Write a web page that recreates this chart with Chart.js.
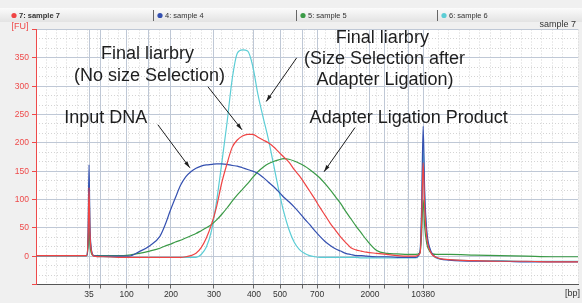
<!DOCTYPE html>
<html>
<head>
<meta charset="utf-8">
<script src="https://cdn.jsdelivr.net/npm/chart.js@4"></script>
<style>
  html, body { margin: 0; padding: 0; background: #f0f0f0; }
</style>
</head>
<body>
<canvas id="electro" width="582" height="303"></canvas>
<script>
// migration time in seconds, shared by all four traces
const migrationTime = [20, 24, 28, 29.8, 30.1, 30.27, 30.45, 30.7, 31.2, 33, 36, 38, 40, 42, 44,
  45, 46, 47, 48, 49, 50, 51, 52, 53, 54, 55, 56, 57, 58, 59, 60, 61, 62, 63, 64,
  65, 66, 67, 68, 69, 70, 71, 72, 73, 74, 75, 76, 77, 78, 79, 80, 81, 82, 83, 84,
  86, 88, 90, 92, 93.5, 94.4, 94.7, 95.0, 95.3, 95.7, 96.3, 97.5, 100, 105, 110, 115, 120, 125];

// fluorescence [FU]
const sample7 = [1, 1, 1, 1, 36, 121, 42, 11, 0, -1, -2, -2, -2, -2, -2,
  -2, -2, -2, -2, -1, 1, 5, 15, 32, 56, 88, 130, 163, 192, 205, 212, 215, 215, 210, 205,
  200, 193, 184, 175, 166, 153, 142, 129, 115, 101, 86, 72, 58, 46, 34, 24, 15, 11, 9, 7,
  5, 3, 1, 0, 0, 5, 58, 165, 85, 33, 10, -2, -6, -8, -9, -9, -10, -10];
const sample4 = [1, 1, 1, 1, 45, 161, 55, 14, 1, 0, 0, 0, 8, 18, 35,
  55, 80, 103, 125, 140, 149, 155, 159, 161, 162, 163, 163, 162, 160, 159, 156, 153, 150, 146, 139,
  131, 123, 114, 104, 96, 87, 77, 66, 56, 45, 35, 26, 19, 13, 9, 5, 3, 1, 1, 0,
  -1, -1, -2, -2, -2, 8, 85, 229, 115, 45, 14, -2, -7, -9, -9, -10, -10, -10];
const sample5 = [1, 1, 1, 1, 17, 56, 20, 6, 1, 1, 1, 2, 5, 9, 14,
  18, 21, 25, 28, 32, 36, 40, 45, 50, 56, 64, 74, 85, 97, 108, 118, 128, 139, 149, 157,
  163, 167, 170, 172, 171, 168, 164, 159, 153, 146, 138, 128, 117, 105, 93, 79, 66, 53, 41, 29,
  10, 5, 4, 3, 3, 6, 38, 100, 52, 22, 8, 3, 3, 2, 1, 0, -1, -1];
const sample6 = [1, 1, 1, 1, 38, 130, 45, 12, 0, -1, -2, -2, -2, -2, -2,
  -2, -2, -2, -2, -2, -2, -2, 3, 16, 45, 98, 165, 235, 312, 358, 364, 362, 335, 285, 245,
  207, 163, 118, 78, 47, 25, 12, 5, 1, -1, -2, -2, -2, -2, -2, -2, -2, -2, -3, -3,
  -3, -3, -3, -3, -3, 8, 70, 194, 100, 40, 12, -3, -6, -8, -8, -9, -9, -9];

// ladder peaks: size [bp] and their migration time
const ladderBp = [35, 50, 100, 150, 200, 300, 400, 500, 600, 700, 1000, 2000, 3000, 7000, 10380];
const ladderTime = [30.27, 32.4, 37.57, 41.89, 46.15, 54.48, 62.23, 67.27, 71.72, 74.44, 78.7, 84.7, 87.61, 92.26, 95.0];
const labelledBp = [35, 100, 200, 300, 400, 500, 700, 2000, 10380];
const fuLabels = [0, 50, 100, 150, 200, 250, 300, 350];

const notes = [
  { text: 'Final liarbry', t: 41.6, fu: 357 },
  { text: '(No size Selection)', t: 42.0, fu: 318 },
  { text: 'Input DNA', t: 33.5, fu: 244 },
  { text: 'Final liarbry', t: 87.1, fu: 385 },
  { text: '(Size Selection after', t: 87.5, fu: 348 },
  { text: 'Adapter Ligation)', t: 87.6, fu: 311 },
  { text: 'Adapter Ligation Product', t: 92.2, fu: 244 }
];
const arrows = [
  { from: [43.6, 232], to: [49.8, 156] },
  { from: [53.3, 299], to: [59.9, 223] },
  { from: [70.5, 350], to: [64.6, 273] },
  { from: [81.8, 227], to: [75.8, 149] }
];

const pts = vals => migrationTime.map((t, i) => ({ x: t, y: vals[i] }));
const font = 'Liberation Sans, Arial, sans-serif';
const gridColor = '#bfc8d6';
const fuRed = '#ee4a4a';

const headerSlots = [14, 160, 303, 444];

const overlay = {
  id: 'overlay',
  beforeDraw(chart) {
    const { ctx, chartArea: a, width } = chart;
    ctx.save();
    ctx.fillStyle = '#f0f0f0';
    ctx.fillRect(0, 0, width, chart.height);
    ctx.fillStyle = '#ffffff';
    ctx.fillRect(a.left, a.top, a.right - a.left, a.bottom - a.top);
    const g = ctx.createLinearGradient(0, 8, 0, 22);
    g.addColorStop(0, '#fbfbfb');
    g.addColorStop(1, '#e3e3e3');
    ctx.fillStyle = g;
    ctx.fillRect(0, 8, width, 14);
    ctx.restore();
  },
  afterDraw(chart) {
    const { ctx } = chart;
    const xs = chart.scales.x, ys = chart.scales.y;
    ctx.save();

    // header strip with the sample names
    ctx.textBaseline = 'middle';
    ctx.textAlign = 'left';
    chart.data.datasets.forEach((ds, i) => {
      const x = headerSlots[i];
      if (i > 0) {
        ctx.strokeStyle = '#666';
        ctx.lineWidth = 1;
        ctx.beginPath();
        ctx.moveTo(x - 6.5, 10);
        ctx.lineTo(x - 6.5, 21);
        ctx.stroke();
      }
      ctx.fillStyle = ds.borderColor;
      ctx.beginPath();
      ctx.arc(x, 15.5, 2.6, 0, Math.PI * 2);
      ctx.fill();
      ctx.fillStyle = '#333';
      ctx.font = (i === 0 ? 'bold ' : '') + '7.5px ' + font;
      ctx.fillText(ds.label, x + 5, 15.5);
    });

    ctx.font = '9px ' + font;
    ctx.fillStyle = fuRed;
    ctx.textAlign = 'center';
    ctx.fillText('[FU]', 20, 27);
    ctx.fillStyle = '#333';
    ctx.textAlign = 'right';
    ctx.fillText('sample 7', 576, 25);
    ctx.fillText('[bp]', 580, 294);

    // annotations
    ctx.font = '18px ' + font;
    ctx.fillStyle = '#1e1e1e';
    ctx.textAlign = 'center';
    notes.forEach(n => ctx.fillText(n.text, xs.getPixelForValue(n.t), ys.getPixelForValue(n.fu)));

    ctx.strokeStyle = '#1e1e1e';
    ctx.lineWidth = 1;
    arrows.forEach(ar => {
      const x1 = xs.getPixelForValue(ar.from[0]), y1 = ys.getPixelForValue(ar.from[1]);
      const x2 = xs.getPixelForValue(ar.to[0]), y2 = ys.getPixelForValue(ar.to[1]);
      ctx.beginPath();
      ctx.moveTo(x1, y1);
      ctx.lineTo(x2, y2);
      ctx.stroke();
      const ang = Math.atan2(y2 - y1, x2 - x1), L = 7;
      ctx.beginPath();
      ctx.moveTo(x2, y2);
      ctx.lineTo(x2 - L * Math.cos(ang - 0.28), y2 - L * Math.sin(ang - 0.28));
      ctx.lineTo(x2 - L * Math.cos(ang + 0.28), y2 - L * Math.sin(ang + 0.28));
      ctx.closePath();
      ctx.fillStyle = '#1e1e1e';
      ctx.fill();
    });
    ctx.restore();
  }
};

const trace = (label, vals, color) => ({
  label, data: pts(vals), borderColor: color, borderWidth: 1.2,
  pointRadius: 0, fill: false, cubicInterpolationMode: 'monotone'
});

new Chart(document.getElementById('electro'), {
  type: 'line',
  data: {
    datasets: [
      trace('7: sample 7', sample7, '#ef4444'),
      trace('4: sample 4', sample4, '#3450b0'),
      trace('5: sample 5', sample5, '#3a9a46'),
      trace('6: sample 6', sample6, '#5ccdd5')
    ]
  },
  options: {
    responsive: false,
    animation: false,
    devicePixelRatio: 1,
    layout: { padding: { top: 29.5, right: 4, left: 0, bottom: 0 } },
    plugins: { legend: { display: false }, tooltip: { enabled: false } },
    scales: {
      xMinor: {
        type: 'linear', position: 'bottom', min: 20, max: 125, z: -1,
        ticks: { display: false, stepSize: 2 },
        grid: { color: '#d4d4d4', drawTicks: false },
        border: { display: false, dash: [1, 2] },
        afterFit: s => { s.height = 0; }
      },
      yMinor: {
        type: 'linear', position: 'left', min: -50, max: 400, z: -1,
        ticks: { display: false, stepSize: 50 / 3 },
        grid: { color: '#d4d4d4', drawTicks: false },
        border: { display: false, dash: [1, 2] },
        afterFit: s => { s.width = 0; }
      },
      x: {
        type: 'linear', position: 'bottom', min: 20, max: 125,
        afterBuildTicks: s => { s.ticks = ladderTime.map(v => ({ value: v })); },
        afterFit: s => { s.height = 18.5; },
        ticks: {
          autoSkip: false, maxRotation: 0, padding: 1, color: '#333',
          font: { size: 8.5, family: font },
          callback: (v, i) => labelledBp.includes(ladderBp[i]) ? String(ladderBp[i]) : ''
        },
        grid: { color: gridColor, tickLength: 4, tickColor: '#666' },
        border: { color: '#555' }
      },
      y: {
        type: 'linear', position: 'left', min: -50, max: 400,
        afterFit: s => { s.width = 36; },
        ticks: {
          stepSize: 50, padding: 3, color: fuRed,
          font: { size: 8.5, family: font },
          callback: v => fuLabels.includes(v) ? String(v) : ''
        },
        grid: { color: gridColor, tickLength: 4, tickColor: fuRed },
        border: { color: fuRed }
      }
    }
  },
  plugins: [overlay]
});
</script>
</body>
</html>
